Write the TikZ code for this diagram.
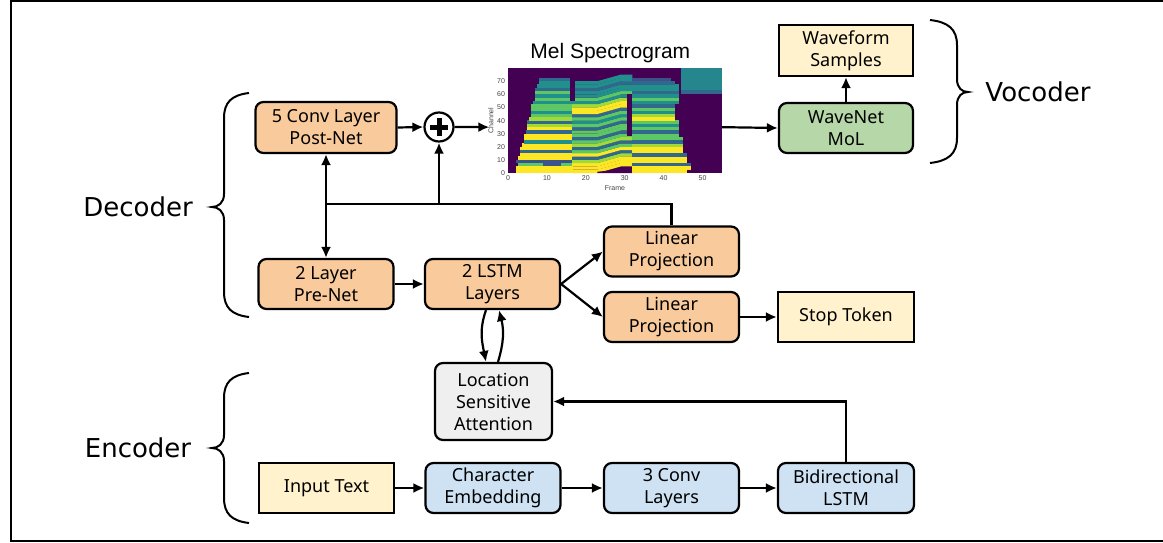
\documentclass[tikz,border=0pt]{standalone}
\usepackage{fontspec}
\setmainfont{Noto Sans}
\newfontfamily\sidefont{DejaVu Sans}
\newfontfamily\arialfont{Liberation Sans}
\usetikzlibrary{arrows.meta}
\definecolor{peach}{HTML}{F9CB9C}
\definecolor{paleyellow}{HTML}{FFF2CC}
\definecolor{paleblue}{HTML}{CFE2F3}
\definecolor{palegreen}{HTML}{B6D7A8}
\definecolor{palegrey}{HTML}{EFEFEF}
\definecolor{vdark}{HTML}{440154}
\definecolor{vblue}{HTML}{3B528B}
\definecolor{vmid}{HTML}{31688E}
\definecolor{vteal}{HTML}{21908C}
\definecolor{vgreen}{HTML}{5DC863}
\definecolor{vlime}{HTML}{A0DA39}
\definecolor{vyellow}{HTML}{FDE725}
\definecolor{ticktext}{HTML}{444444}
\tikzset{
  box/.style={draw, line width=2.2pt, rounded corners=8pt, minimum width=135pt,
    minimum height=50pt, align=center, inner sep=0pt,
    font=\fontsize{18}{22}\selectfont},
  sqbox/.style={box, sharp corners},
  conn/.style={line width=2.2pt, -{Latex[length=11pt,width=10pt]}},
  plainline/.style={line width=2.2pt},
  bracestyle/.style={line width=2pt},
  sidelabel/.style={font=\sidefont\fontsize{26}{30}\selectfont},
  ticklbl/.style={font=\arialfont\fontsize{7}{8}\selectfont, text=ticktext, inner sep=0.5pt},
}
\begin{document}
\begin{tikzpicture}[x=1pt,y=-1pt]
\useasboundingbox (0,0) rectangle (1163,543);
\fill[white] (0,0) rectangle (1163,543);
% outer frame (right side beyond the picture)
\draw[line width=2pt] (11,1) rectangle (1180,541);

% ---------- decoder ----------
\node[box, fill=peach, minimum width=141pt, minimum height=51pt] (post) at (326,127.5) {5 Conv Layer\\Post-Net};
\node[draw, circle, line width=2.2pt, minimum size=29pt, inner sep=0pt, fill=white] (plus) at (439,127) {};
\draw[line width=5pt] ([xshift=-9pt]plus.center) -- ([xshift=9pt]plus.center);
\draw[line width=5pt] ([yshift=-9pt]plus.center) -- ([yshift=9pt]plus.center);
\node[box, fill=peach] (pre) at (326,284) {2 Layer\\Pre-Net};
\node[box, fill=peach] (lstm) at (492.5,284) {2 LSTM\\Layers};
\node[box, fill=peach] (lin1) at (671.5,251.5) {Linear\\Projection};
\node[box, fill=peach] (lin2) at (671.5,317) {Linear\\Projection};
\node[sqbox, fill=paleyellow, minimum width=136pt] (stop) at (846,317) {Stop Token};
\node[box, fill=palegrey, minimum width=117pt, minimum height=77pt] (att) at (493.5,401.5) {Location\\Sensitive\\Attention};

% ---------- encoder ----------
\node[sqbox, fill=paleyellow] (input) at (326.5,488) {Input Text};
\node[box, fill=paleblue] (char) at (493,488) {Character\\Embedding};
\node[box, fill=paleblue] (conv) at (671.5,488) {3 Conv\\Layers};
\node[box, fill=paleblue, minimum width=136pt] (bilstm) at (846,488) {Bidirectional\\LSTM};

% ---------- vocoder ----------
\node[box, fill=palegreen, minimum width=134pt] (wave) at (846,128) {WaveNet\\MoL};
\node[sqbox, fill=paleyellow, minimum width=134pt, minimum height=51pt] (wfs) at (846,50.5) {Waveform\\Samples};

% ---------- spectrogram ----------
\begin{scope}[shift={(508,173)}, x=3.89pt, y=1.31pt]
  \fill[vdark] (0,0) rectangle (55,80);
  \begin{scope}
    \clip (0,0) rectangle (55,80);
    % segment A (frames 2-16)
    \foreach \c/\col/\a in {0/vyellow/2, 2.5/vyellow/2, 5/vgreen/2.5, 7.5/vblue/4,
        10/vyellow/2.5, 12.5/vyellow/3, 15/vmid/3, 17.5/vyellow/3, 20/vyellow/3.5,
        22.5/vteal/4, 25/vyellow/4, 27.5/vyellow/4, 30/vmid/4.5, 32.5/vyellow/5,
        35/vlime/5, 37.5/vmid/5, 40/vlime/5.5, 42.5/vgreen/6, 45/vteal/6,
        47.5/vgreen/6, 50/vgreen/6, 52.5/vteal/6.5, 55/vgreen/7, 57.5/vteal/7,
        60/vgreen/7, 62.5/vmid/7, 65/vteal/7.5, 67.5/vteal/8, 70/vmid/8}
      \fill[\col] (\a,\c) rectangle (16.7,\c+2.6);
    \fill[vblue] (2,7.5) rectangle (4,10.1);
    \fill[vblue] (9,5) rectangle (13.5,7.6);
    % segment B (frames 17-31), harmonics rising
    \foreach \c/\col in {0/vyellow, 2.5/vyellow, 5/vyellow, 7.5/vlime, 10/vmid,
        12.5/vyellow, 15/vgreen, 17.5/vmid, 20/vlime, 22.5/vgreen, 25/vmid,
        27.5/vgreen, 30/vgreen, 32.5/vmid, 35/vgreen, 37.5/vteal, 40/vgreen,
        42.5/vmid, 45/vyellow, 47.5/vyellow, 50/vlime, 52.5/vteal, 55/vgreen,
        57.5/vteal, 60/vteal, 62.5/vmid, 65/vteal, 67.5/vteal}
      \fill[\col] (16.5,\c) -- (23,\c) -- (29,\c+5) -- (32,\c+5) -- (32,\c+7.6)
        -- (29,\c+7.6) -- (23,\c+2.6) -- (16.5,\c+2.6) -- cycle;
    \fill[vdark] (17,70) rectangle (20,80);
    \fill[vdark] (23,0) -- (32,0) -- (32,3) -- (29,2.5) -- (25,1.5) -- (23,1) -- cycle;
    \fill[vdark] (16,55) rectangle (17.2,80);
    \fill[vdark] (30.5,28) rectangle (31.8,60);
    % segment C (frames 32-47)
    \foreach \c/\col/\b in {0/vyellow/46, 2.5/vyellow/47, 5/vmid/47, 7.5/vyellow/46,
        10/vyellow/46, 12.5/vmid/46, 15/vyellow/45, 17.5/vyellow/45, 20/vlime/45,
        22.5/vmid/45, 25/vgreen/45, 27.5/vgreen/44, 30/vmid/44, 32.5/vgreen/44,
        35/vteal/44, 37.5/vgreen/44, 40/vyellow/43, 42.5/vlime/43, 45/vteal/43,
        47.5/vgreen/43, 50/vmid/43, 52.5/vteal/44, 55/vgreen/44, 57.5/vteal/44,
        60/vmid/44, 62.5/vteal/44, 65/vteal/44, 67.5/vmid/43, 70/vblue/42}
      \fill[\col] (31.8,\c) rectangle (\b,\c+2.6);
    % top right blob
    \fill[vteal!75!vmid] (44.5,63) rectangle (55,82);
    \fill[vmid] (44.5,60) rectangle (55,63);
  \end{scope}
  \foreach \c in {0,10,20,30,40,50,60,70}
    \node[ticklbl, anchor=east] (yt\c) at (-0.6,\c) {\c};
  \foreach \f in {0,10,20,30,40,50}
    \node[ticklbl, anchor=north] (xt\f) at (\f,-1.5) {\f};
  \node[ticklbl, rotate=90] (chlab) at (-4.4,40) {Channel};
  \node[ticklbl] (frlab) at (27.5,-11.5) {Frame};
  \node[font=\arialfont\fontsize{21}{24}\selectfont, inner sep=0pt] (meltitle) at (26.3,91.5) {Mel Spectrogram};
  \coordinate (specin) at (-4.8,35);
  \coordinate (specout) at (55,35);
\end{scope}

% ---------- connectors ----------
\draw[conn] (post.east) -- (plus.west);
\draw[conn] (plus.east) -- (specin);
\draw[conn] (specout) -- (wave.west);
\draw[conn] (wave.north) -- (wfs.south);
\coordinate (fb) at (326,204);
\draw[plainline] (lin1.north) |- (fb);
\draw[conn] (fb) -- (post.south);
\draw[conn] (fb) -- (pre.north);
\draw[conn] (plus.south |- fb) -- (plus.south);
\draw[conn] (pre.east) -- (lstm.west);
\draw[conn] (lstm.east) -- (lin1.west);
\draw[conn] (lstm.east) -- (lin2.west);
\draw[conn] (lin2.east) -- (stop.west);
\draw[conn] ([xshift=-6.5pt]lstm.south) .. controls +(-7,20) and +(-4,-20) .. ([xshift=-7.5pt]att.north);
\draw[conn] ([xshift=4.5pt]att.north) .. controls +(6,-20) and +(5,20) .. ([xshift=6.5pt]lstm.south);
\draw[conn] (input.east) -- (char.west);
\draw[conn] (char.east) -- (conv.west);
\draw[conn] (conv.east) -- (bilstm.west);
\draw[conn] (bilstm.north) |- (att.east);

% ---------- braces and labels ----------
\draw[bracestyle] (249,93) .. controls (232,95) and (224,102) .. (224,118) -- (224,194)
  .. controls (224,203) and (218,207) .. (212,207)
  .. controls (218,207) and (224,211) .. (224,220) -- (224,292)
  .. controls (224,308) and (232,315) .. (249,317);
\draw[bracestyle] (249,373) .. controls (232,375) and (224,382) .. (224,398) -- (224,435)
  .. controls (224,444) and (218,448) .. (212,448)
  .. controls (218,448) and (224,452) .. (224,461) -- (224,498)
  .. controls (224,514) and (232,521) .. (249,523);
\draw[bracestyle] (930,20) .. controls (948,22) and (957,29) .. (957,45) -- (957,79)
  .. controls (957,88) and (962,92) .. (968,92)
  .. controls (962,92) and (957,96) .. (957,105) -- (957,138)
  .. controls (957,154) and (948,161) .. (930,163);
\node[sidelabel] (declab) at (138,207) {Decoder};
\node[sidelabel] (enclab) at (138,448) {Encoder};
\node[sidelabel] (voclab) at (1038,92) {Vocoder};
\end{tikzpicture}
\end{document}
